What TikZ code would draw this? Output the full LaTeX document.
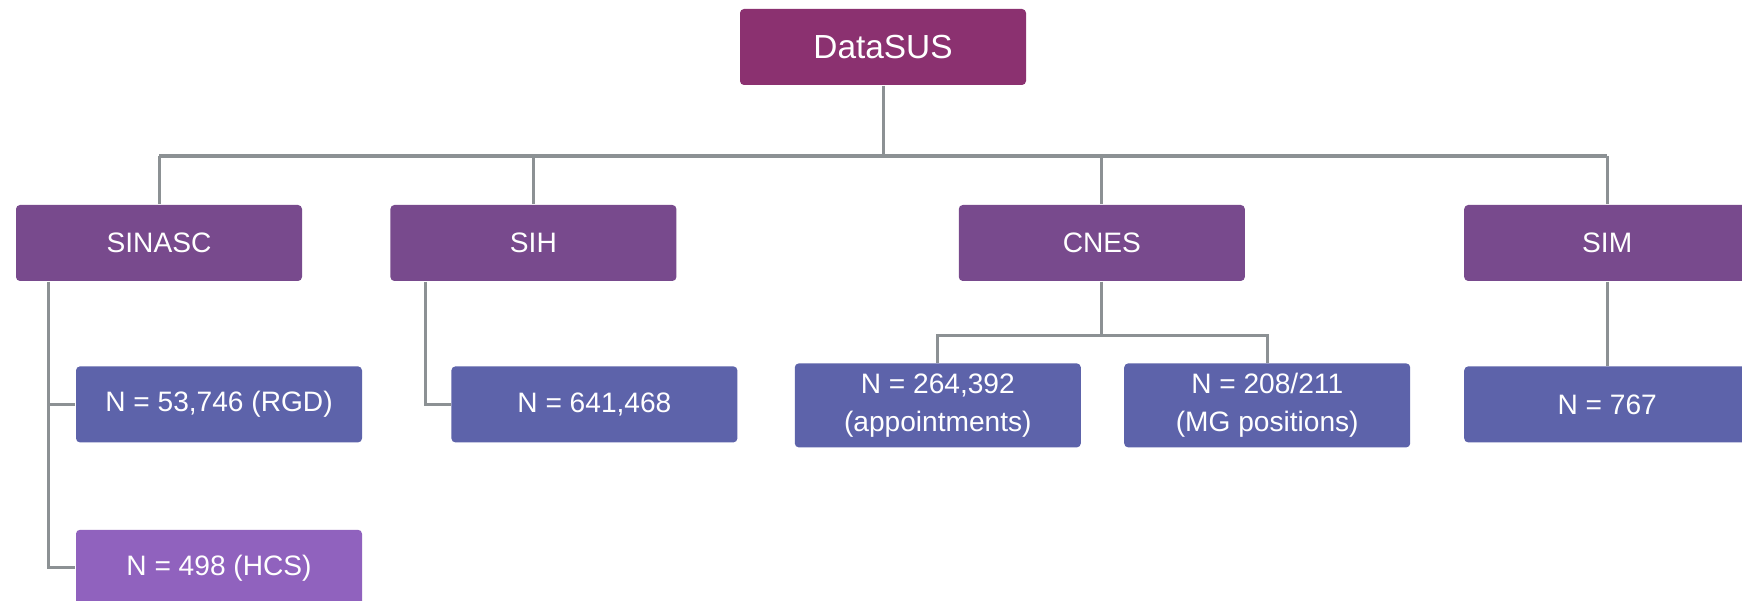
\documentclass[tikz,border=0pt]{standalone}
\usepackage{fontspec}
\setmainfont{Liberation Sans}
\usetikzlibrary{positioning}

\definecolor{rootcolor}{HTML}{8B3170}
\definecolor{systemcolor}{HTML}{784A8D}
\definecolor{countcolor}{HTML}{5D63AA}
\definecolor{hcscolor}{HTML}{9062BE}
\definecolor{linkcolor}{HTML}{8C9194}

\tikzset{
    box/.style={rectangle, rounded corners=0.4mm, minimum width=2.86cm, minimum height=0.76cm, inner sep=0pt, align=center, text=white, font=\fontsize{8}{10.8}\selectfont},
    rootbox/.style={box, fill=rootcolor, font=\fontsize{9.5}{11.4}\selectfont},
    systembox/.style={box, fill=systemcolor},
    countbox/.style={box, fill=countcolor},
    hcsbox/.style={box, fill=hcscolor},
    link/.style={draw=linkcolor, line width=0.3mm},
}

\begin{document}
\begin{tikzpicture}[x=0.1mm, y=-0.1mm]
    \clip (0,0) rectangle (1742,601);
    \fill [white] (0,0) rectangle (1742,601);

    \node (datasus) [rootbox] at (883,47) {DataSUS};

    \node (sinasc) [systembox] at (159,243) {SINASC};
    \node (sih) [systembox, right = 0.87cm of sinasc] {SIH};
    \node (cnes) [systembox, right = 2.81cm of sih] {CNES};
    \node (sim) [systembox, right = 2.18cm of cnes] {SIM};

    \node (rgd) [countbox, below = 0.84cm of sinasc, xshift=6mm] {N = 53,746 (RGD)};
    \node (hcs) [hcsbox, below = 0.86cm of rgd] {N = 498 (HCS)};
    \node (sihcount) [countbox, below = 0.84cm of sih, xshift=6.1mm] {N = 641,468};
    \node (appts) [countbox, minimum height=0.84cm, below = 0.81cm of cnes, xshift=-16.4mm] {
        N = 264,392\\
        (appointments)
    };
    \node (mgpos) [countbox, minimum height=0.84cm, right = 0.42cm of appts] {
        N = 208/211\\
        (MG positions)
    };
    \node (simcount) [countbox, below = 0.84cm of sim] {N = 767};

    % DataSUS to the four systems
    \coordinate (bus) at (0,156);
    \draw [link] (datasus.south) -- (datasus.south |- bus);
    \draw [link, line width=0.45mm] (sinasc.north |- bus) -- (sim.north |- bus);
    \draw [link] (sinasc.north |- bus) -- (sinasc.north);
    \draw [link] (sih.north |- bus) -- (sih.north);
    \draw [link] (cnes.north |- bus) -- (cnes.north);
    \draw [link] (sim.north |- bus) -- (sim.north);

    % systems to counts
    \coordinate (sinascspine) at ([xshift=3.3mm]sinasc.south west);
    \draw [link] (sinascspine) |- (hcs.west);
    \draw [link] (sinascspine |- rgd.west) -- (rgd.west);

    \coordinate (sihspine) at ([xshift=3.6mm]sih.south west);
    \draw [link] (sihspine) |- (sihcount.west);

    \coordinate (cnesfork) at ([yshift=-5.4mm]cnes.south);
    \draw [link] (cnes.south) -- (cnesfork);
    \draw [link] (appts.north) |- (cnesfork) -| (mgpos.north);

    \draw [link] (sim.south) -- (simcount.north);
\end{tikzpicture}
\end{document}
